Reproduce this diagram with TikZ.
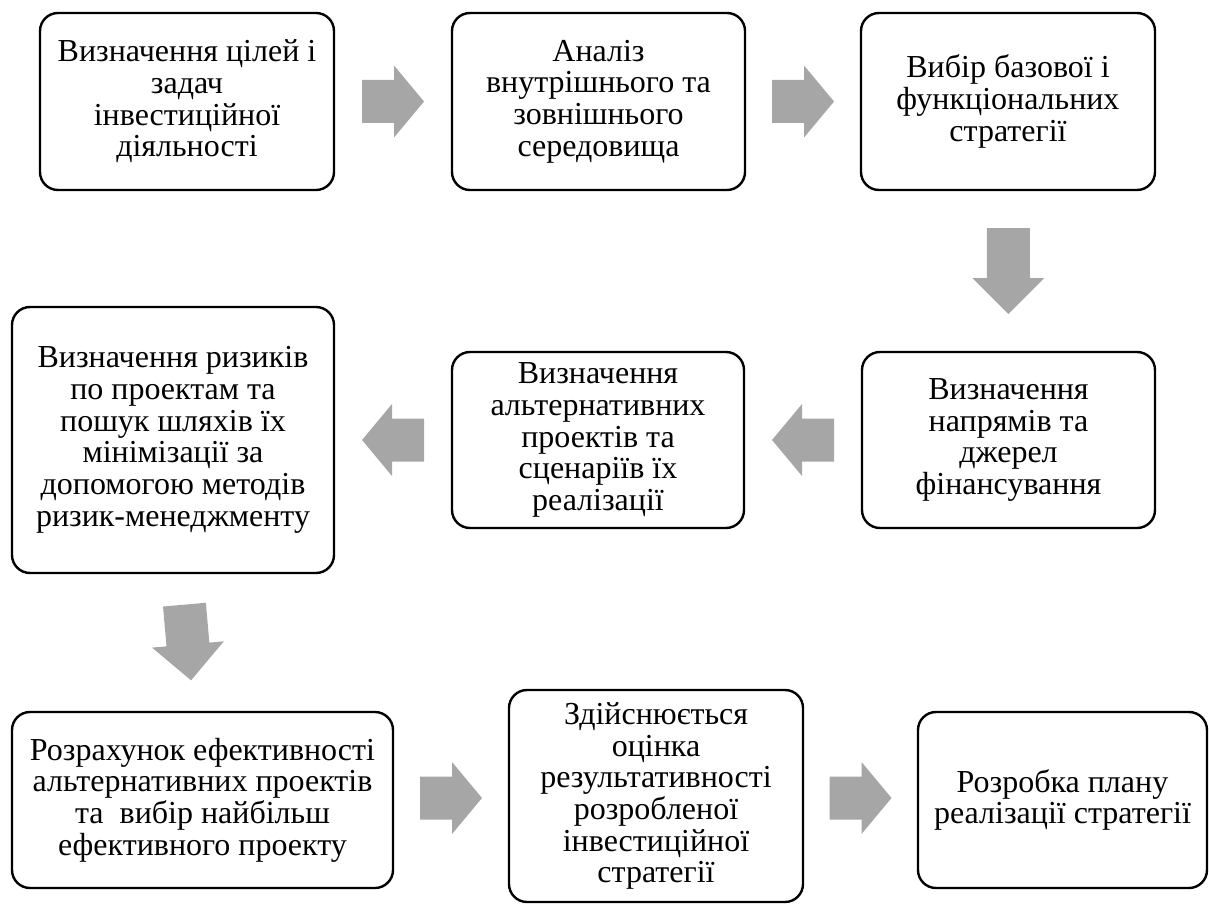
\documentclass[tikz,border=0pt]{standalone}
\usepackage{fontspec}
\setmainfont{Liberation Serif}
\usetikzlibrary{calc}
\definecolor{arrgray}{RGB}{166,166,166}
\tikzset{
  stagebox/.style={draw=black, line width=2.4pt, rounded corners=18pt, fill=white,
    align=center, inner sep=0pt, font=\fontsize{32}{31.7}\selectfont},
  pics/blockarr/.style args={#1/#2}{code={
    \fill[arrgray] ({-#1/2},-21.5) -- ({#1/2-#2},-21.5) -- ({#1/2-#2},-36) -- ({#1/2},0)
      -- ({#1/2-#2},36) -- ({#1/2-#2},21.5) -- ({-#1/2},21.5) -- cycle;
  }}
}
\begin{document}
\begin{tikzpicture}[x=1pt,y=-1pt]
\useasboundingbox (0,0) rectangle (1209,904);
% row 1
\node[stagebox, minimum width=294pt, minimum height=177pt] (A) at (187,101.5)
  {Визначення цілей і\\задач\\інвестиційної\\діяльності};
\node[stagebox, minimum width=293pt, minimum height=177pt] (B) at (598.5,101.5)
  {Аналіз\\внутрішнього та\\зовнішнього\\середовища};
\node[stagebox, minimum width=294pt, minimum height=177pt] (C) at (1008,101.5)
  {Вибір базової і\\функціональних\\стратегії};
% row 2
\node[stagebox, minimum width=293pt, minimum height=176pt] (D) at (1008.5,440)
  {Визначення\\напрямів та\\джерел\\фінансування};
\node[stagebox, minimum width=292pt, minimum height=176pt] (E) at (598,440)
  {Визначення\\альтернативних\\проектів та\\сценаріїв їх\\реалізації};
\node[stagebox, minimum width=322pt, minimum height=266pt] (F) at (173,440)
  {Визначення ризиків\\по проектам та\\пошук шляхів їх\\мінімізації за\\допомогою методів\\ризик-менеджменту};
% row 3
\node[stagebox, minimum width=381pt, minimum height=176pt] (G) at (202.5,800)
  {Розрахунок ефективності\\альтернативних проектів\\та \ вибір найбільш\\ефективного проекту};
\node[stagebox, minimum width=294pt, minimum height=212pt] (H) at (656,796)
  {Здійснюється\\оцінка\\результативності\\розробленої\\інвестиційної\\стратегії};
\node[stagebox, minimum width=289pt, minimum height=176pt] (I) at (1062.5,800)
  {Розробка плану\\реалізації стратегії};
% block arrows
\pic at ($(A.east)!0.5!(B.west)$) {blockarr=62/30};
\pic at ($(B.east)!0.5!(C.west)$) {blockarr=62/30};
\pic[rotate=-90] at ($(C.south)!0.5!(D.north)$) {blockarr=86/36};
\pic[rotate=180] at ($(D.west)!0.5!(E.east)$) {blockarr=62/30};
\pic[rotate=180] at ($(E.west)!0.5!(F.east)$) {blockarr=62/30};
\pic[rotate=-85] at ($(F.south)!0.5!(G.north)$) {blockarr=76/36};
\pic at ($(G.east)!0.5!(H.west)$) {blockarr=62/30};
\pic at ($(H.east)!0.5!(I.west)$) {blockarr=62/30};
\end{tikzpicture}
\end{document}
